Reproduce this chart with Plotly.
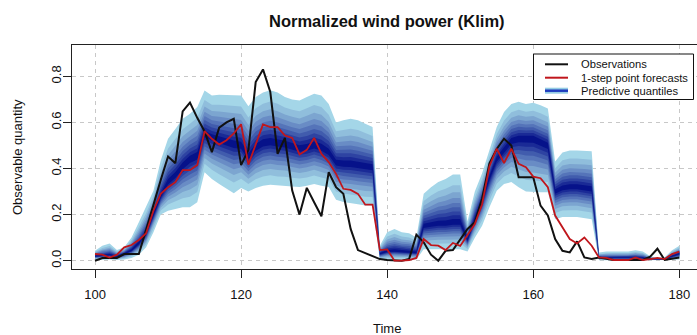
import plotly.graph_objects as go

# Time index of the hourly series
time = list(range(100, 181))

# Observed normalized wind power
observations = [
    0.000, 0.012, 0.012, 0.012, 0.029, 0.029, 0.029, 0.135, 0.245, 0.350,
    0.452, 0.423, 0.648, 0.686, 0.620, 0.561, 0.471, 0.577, 0.600, 0.616,
    0.415, 0.480, 0.775, 0.830, 0.732, 0.464, 0.533, 0.304, 0.200, 0.316,
    0.254, 0.193, 0.384, 0.319, 0.290, 0.138, 0.046, 0.033, 0.019, 0.007,
    0.003, 0.000, 0.000, 0.007, 0.113, 0.080, 0.026, 0.000, 0.043, 0.046,
    0.090, 0.138, 0.167, 0.270, 0.423, 0.485, 0.529, 0.500, 0.362, 0.362,
    0.362, 0.239, 0.196, 0.094, 0.043, 0.036, 0.084, 0.014, 0.007, 0.014,
    0.007, 0.003, 0.003, 0.003, 0.003, 0.003, 0.017, 0.052, 0.003, 0.007,
    0.014,
]

# 1-step ahead point forecasts
point_forecasts = [
    0.029, 0.026, 0.014, 0.026, 0.058, 0.068, 0.090, 0.119, 0.217, 0.290,
    0.319, 0.341, 0.393, 0.393, 0.415, 0.562, 0.529, 0.504, 0.523, 0.552,
    0.592, 0.417, 0.504, 0.591, 0.580, 0.580, 0.543, 0.533, 0.461, 0.481,
    0.533, 0.464, 0.428, 0.377, 0.312, 0.307, 0.290, 0.243, 0.243, 0.046,
    0.049, 0.000, 0.000, 0.003, 0.012, 0.094, 0.068, 0.065, 0.046, 0.077,
    0.064, 0.109, 0.159, 0.245, 0.410, 0.486, 0.423, 0.486, 0.420, 0.406,
    0.365, 0.358, 0.319, 0.196, 0.145, 0.094, 0.075, 0.101, 0.065, 0.014,
    0.012, 0.003, 0.003, 0.003, 0.014, 0.003, 0.007, 0.012, 0.007, 0.029,
    0.039,
]

# Predictive distribution: outer 5% quantile, centre, outer 95% quantile
q_lower = [
    0.003, 0.003, 0.005, 0.003, 0.005, 0.012, 0.026, 0.058, 0.123, 0.200,
    0.217, 0.225, 0.232, 0.232, 0.254, 0.384, 0.355, 0.333, 0.312, 0.293,
    0.315, 0.300, 0.315, 0.325, 0.330, 0.325, 0.325, 0.322, 0.320, 0.325,
    0.333, 0.325, 0.320, 0.265, 0.255, 0.250, 0.245, 0.240, 0.240, 0.003,
    0.005, 0.005, 0.005, 0.005, 0.005, 0.050, 0.050, 0.050, 0.050, 0.050,
    0.050, 0.040, 0.100, 0.152, 0.232, 0.304, 0.333, 0.341, 0.319, 0.300,
    0.297, 0.297, 0.297, 0.180, 0.190, 0.190, 0.190, 0.185, 0.180, 0.002,
    0.002, 0.002, 0.002, 0.002, 0.002, 0.002, 0.002, 0.002, 0.002, 0.003,
    0.005,
]
q_center = [
    0.020, 0.022, 0.025, 0.018, 0.030, 0.045, 0.075, 0.120, 0.200, 0.280,
    0.340, 0.370, 0.410, 0.440, 0.455, 0.550, 0.535, 0.525, 0.515, 0.505,
    0.500, 0.450, 0.490, 0.510, 0.515, 0.510, 0.505, 0.495, 0.485, 0.490,
    0.500, 0.490, 0.470, 0.425, 0.420, 0.420, 0.415, 0.410, 0.405, 0.030,
    0.040, 0.042, 0.040, 0.038, 0.035, 0.150, 0.155, 0.160, 0.160, 0.165,
    0.165, 0.090, 0.180, 0.260, 0.360, 0.440, 0.480, 0.520, 0.530, 0.530,
    0.530, 0.515, 0.500, 0.300, 0.315, 0.320, 0.320, 0.315, 0.310, 0.012,
    0.012, 0.012, 0.012, 0.012, 0.014, 0.012, 0.008, 0.006, 0.006, 0.020,
    0.030,
]
q_upper = [
    0.043, 0.065, 0.075, 0.046, 0.058, 0.101, 0.167, 0.232, 0.304, 0.435,
    0.529, 0.572, 0.616, 0.638, 0.667, 0.739, 0.717, 0.720, 0.720, 0.720,
    0.717, 0.670, 0.710, 0.730, 0.740, 0.730, 0.710, 0.700, 0.695, 0.710,
    0.725, 0.717, 0.680, 0.600, 0.610, 0.616, 0.610, 0.594, 0.580, 0.065,
    0.123, 0.138, 0.123, 0.119, 0.101, 0.290, 0.319, 0.341, 0.355, 0.374,
    0.374, 0.170, 0.300, 0.380, 0.478, 0.580, 0.645, 0.680, 0.690, 0.680,
    0.685, 0.675, 0.660, 0.430, 0.470, 0.478, 0.478, 0.478, 0.475, 0.036,
    0.040, 0.040, 0.040, 0.040, 0.045, 0.040, 0.020, 0.012, 0.015, 0.045,
    0.065,
]

x_ticks = [100, 120, 140, 160, 180]
y_ticks = [0.0, 0.2, 0.4, 0.6, 0.8]

# central intervals 90%, 80%, ..., 10%: half-width relative to the 90% interval
z_ratio = [1.6449, 1.2816, 1.0364, 0.8416, 0.6745, 0.5244, 0.3853, 0.2533, 0.1257]
z_ratio = [z / z_ratio[0] for z in z_ratio]

light = (164, 214, 232)
dark = (6, 18, 138)
n_bands = len(z_ratio)

fig = go.Figure()

for k, s in enumerate(z_ratio):
    f = k / (n_bands - 1)
    col = "rgb(%d,%d,%d)" % tuple(round(light[i] + (dark[i] - light[i]) * f) for i in range(3))
    lo = [c - (c - l) * s for c, l in zip(q_center, q_lower)]
    hi = [c + (u - c) * s for c, u in zip(q_center, q_upper)]
    fig.add_trace(go.Scatter(
        x=time + time[::-1], y=hi + lo[::-1],
        fill="toself", fillcolor=col, mode="lines",
        line=dict(width=0, color=col), hoverinfo="skip", showlegend=False,
    ))

fig.add_trace(go.Scatter(x=time, y=observations, mode="lines",
                         line=dict(color="#111111", width=2), showlegend=False))
fig.add_trace(go.Scatter(x=time, y=point_forecasts, mode="lines",
                         line=dict(color="#c0161c", width=1.8), showlegend=False))

# plot area geometry in pixels
L, R, T, B = 72, 697, 45, 269
W, H = R - L, B - T


def px(x):
    return (x - L) / W


def py(y):
    return (B - y) / H


shapes = [
    dict(type="rect", xref="paper", yref="paper", x0=px(533.5), x1=px(693.5),
         y0=py(99.5), y1=py(54), fillcolor="white", line=dict(color="#111111", width=1)),
    dict(type="line", xref="paper", yref="paper", x0=px(545), x1=px(568),
         y0=py(64.3), y1=py(64.3), line=dict(color="#111111", width=2)),
    dict(type="line", xref="paper", yref="paper", x0=px(545), x1=px(568),
         y0=py(77.7), y1=py(77.7), line=dict(color="#c0161c", width=2)),
    dict(type="line", xref="paper", yref="paper", x0=px(545), x1=px(568),
         y0=py(90.7), y1=py(90.7), line=dict(color="rgb(150,205,228)", width=6)),
    dict(type="line", xref="paper", yref="paper", x0=px(545), x1=px(568),
         y0=py(90.7), y1=py(90.7), line=dict(color="rgb(30,60,190)", width=2.5)),
]

legend_labels = ["Observations", "1-step point forecasts", "Predictive quantiles"]
legend_rows = [64.3, 77.7, 90.7]
font_family = "Liberation Sans, Arial, sans-serif"

annotations = [
    dict(text=t, xref="paper", yref="paper", x=px(579), y=py(r), xanchor="left",
         yanchor="middle", showarrow=False, font=dict(family=font_family, size=11.2, color="#111111"))
    for t, r in zip(legend_labels, legend_rows)
]
annotations += [
    dict(text="Normalized wind power (Klim)", xref="paper", yref="paper", x=px(387), y=py(21),
         xanchor="center", yanchor="middle", showarrow=False,
         font=dict(family=font_family, size=16.5, color="#111111", weight="bold")),
    dict(text="Time", xref="paper", yref="paper", x=px(387), y=py(328),
         xanchor="center", yanchor="middle", showarrow=False,
         font=dict(family=font_family, size=13, color="#111111")),
    dict(text="Observable quantity", xref="paper", yref="paper", x=px(17), y=py(157),
         xanchor="center", yanchor="middle", showarrow=False, textangle=-90,
         font=dict(family=font_family, size=13, color="#111111")),
]

fig.update_layout(
    width=697, height=335,
    margin=dict(l=L, r=697 - R, t=T, b=335 - B, pad=0),
    paper_bgcolor="white", plot_bgcolor="white",
    showlegend=False,
    shapes=shapes, annotations=annotations,
    font=dict(family=font_family, size=13, color="#111111"),
)
fig.update_xaxes(
    range=[96.85, 182.42], tickvals=x_ticks, ticktext=[str(v) for v in x_ticks],
    showgrid=True, gridcolor="#c8c8c8", gridwidth=1, griddash="4px,4px",
    showline=True, linecolor="#222222", linewidth=1, mirror=True,
    ticks="outside", ticklen=8, tickcolor="#222222", zeroline=False,
    tickfont=dict(size=13), ticklabelstandoff=5,
)
fig.update_yaxes(
    range=[-0.036, 0.936], tickvals=y_ticks, ticktext=["%.1f" % v for v in y_ticks],
    showgrid=True, gridcolor="#c8c8c8", gridwidth=1, griddash="4px,4px",
    showline=True, linecolor="#222222", linewidth=1, mirror=False,
    ticks="outside", ticklen=8, tickcolor="#222222", zeroline=False,
    tickangle=-90, tickfont=dict(size=13), ticklabelstandoff=-3,
)

fig.write_html("out.html")
